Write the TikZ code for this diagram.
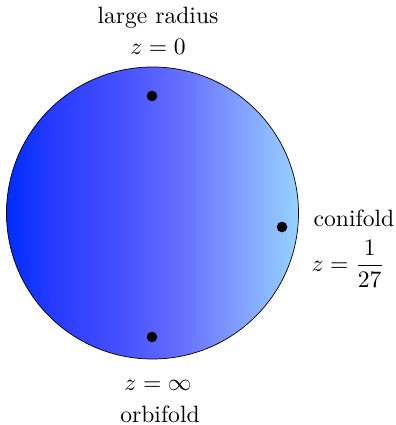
\documentclass[tikz,border=0pt]{standalone}
\usepackage{amsmath}
\pgfdeclarehorizontalshading{diskshade}{100bp}{%
  rgb(0bp)=(0,0.176,1);
  rgb(25bp)=(0,0.176,1);
  rgb(33.5bp)=(0.157,0.235,1);
  rgb(44.5bp)=(0.275,0.314,1);
  rgb(54.5bp)=(0.392,0.431,1);
  rgb(65bp)=(0.51,0.627,1);
  rgb(75bp)=(0.59,0.824,1);
  rgb(100bp)=(0.59,0.824,1)}
\begin{document}
\begin{tikzpicture}[x=0.4237pt,y=-0.4237pt,
  dot/.style={circle,fill=black,inner sep=0pt,minimum size=4.5pt},
  lbl/.style={inner sep=0pt}]
\useasboundingbox (0,0) rectangle (395,425);
\node[circle,draw=black,line width=0.3pt,minimum size=292*0.4237pt,inner sep=0pt,
  shading=diskshade] (disk) at (152.5,213) {};
\node[dot] (top) at (152,96) {};
\node[dot] (right) at (282,227) {};
\node[dot] (bottom) at (152,337) {};
\node[lbl] (lr) at (158,18) {large radius};
\node[lbl] (z0) at (158,47) {$z=0$};
\node[lbl] (coni) at (354,218) {conifold};
\node[lbl] (z27) at (348,264) {$z=\dfrac{1}{27}$};
\node[lbl] (zinf) at (158,385) {$z=\infty$};
\node[lbl] (orbi) at (160,414) {orbifold};
\end{tikzpicture}
\end{document}
